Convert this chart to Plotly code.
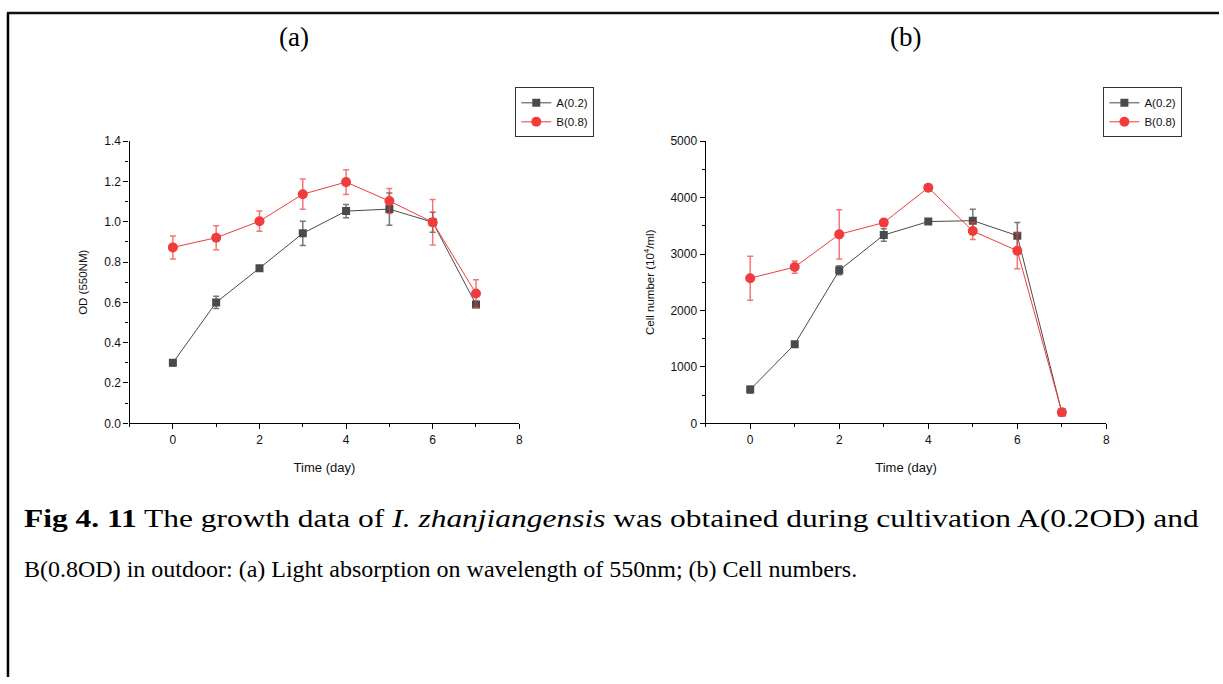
import plotly.graph_objects as go

# Sampling days
days = [0, 1, 2, 3, 4, 5, 6, 7]

# (a) optical density at 550 nm
od_a = [0.30, 0.60, 0.77, 0.943, 1.053, 1.063, 0.998, 0.59]
od_a_err = [0.015, 0.03, 0.01, 0.06, 0.033, 0.08, 0.05, 0.015]
od_b = [0.873, 0.921, 1.003, 1.137, 1.197, 1.103, 0.998, 0.644]
od_b_err = [0.057, 0.06, 0.05, 0.075, 0.061, 0.062, 0.113, 0.068]

# (b) cell numbers (10^4 / ml)
cells_a = [597, 1402, 2711, 3337, 3575, 3592, 3326, 191]
cells_a_err = [60, 40, 80, 110, 20, 200, 235, 20]
cells_b = [2572, 2769, 3349, 3557, 4177, 3407, 3059, 197]
cells_b_err = [390, 108, 435, 20, 20, 150, 320, 20]

series_names = ["A(0.2)", "B(0.8)"]

W, H = 1223, 684
GRAY = "#4a4a4a"
RED = "#f03c3c"
GRAY_ERR = "rgba(74,74,74,0.75)"
RED_ERR = "rgba(240,60,60,0.7)"
SANS = "Liberation Sans, Arial, sans-serif"
SERIF = "Liberation Serif, Times New Roman, serif"
INK = "#111111"


def px_x(p):
    return p / W


def px_y(p):
    return 1 - p / H


fig = go.Figure()


def add_pair(xaxis, yaxis, legend, ya, yae, yb, ybe):
    fig.add_trace(go.Scatter(
        x=days, y=ya, name=series_names[0], mode="lines+markers",
        xaxis=xaxis, yaxis=yaxis, legend=legend,
        line=dict(color=GRAY, width=1),
        marker=dict(symbol="square", size=8, color=GRAY),
        error_y=dict(type="data", array=yae, visible=True,
                     color=GRAY_ERR, thickness=1.5, width=3),
    ))
    fig.add_trace(go.Scatter(
        x=days, y=yb, name=series_names[1], mode="lines+markers",
        xaxis=xaxis, yaxis=yaxis, legend=legend,
        line=dict(color=RED, width=1),
        marker=dict(symbol="circle", size=10, color=RED),
        error_y=dict(type="data", array=ybe, visible=True,
                     color=RED_ERR, thickness=1.5, width=3),
    ))


add_pair("x", "y", "legend", od_a, od_a_err, od_b, od_b_err)
add_pair("x2", "y2", "legend2", cells_a, cells_a_err, cells_b, cells_b_err)

plot_top, plot_bottom = 137, 425

axis_common = dict(
    showline=True, linecolor="black", linewidth=1.3, mirror=False,
    showgrid=False, zeroline=False,
    ticks="outside", ticklen=5, tickwidth=1, tickcolor="black",
    tickfont=dict(family=SANS, size=12, color=INK),
)

xa = dict(axis_common, range=[-1, 8], dtick=2, tick0=0,
          minor=dict(ticks="outside", ticklen=3, dtick=1, tick0=0, tickcolor="black"),
          title=dict(text="Time (day)", font=dict(family=SANS, size=13, color=INK),
                     standoff=17))

ytitle_font = dict(family=SANS, size=11.5, color=INK)
legend_style = dict(xanchor="left", yanchor="top",
                    bordercolor="#333333", borderwidth=1, bgcolor="white",
                    font=dict(family=SANS, size=11.5, color=INK),
                    itemwidth=30, tracegroupgap=0)

fig.update_layout(
    width=W, height=H,
    margin=dict(l=0, r=0, t=0, b=0),
    paper_bgcolor="white", plot_bgcolor="white",
    showlegend=True,
    xaxis=dict(xa, domain=[px_x(130), px_x(521)], anchor="y"),
    yaxis=dict(axis_common, range=[0, 1.4], dtick=0.2, tickformat=".1f",
               domain=[px_y(plot_bottom), px_y(plot_top)], anchor="x",
               minor=dict(ticks="outside", ticklen=3, dtick=0.1, tickcolor="black"),
               title=dict(text="OD (550NM)", font=ytitle_font, standoff=14)),
    xaxis2=dict(xa, domain=[px_x(708), px_x(1110)], anchor="y2"),
    yaxis2=dict(axis_common, range=[0, 5000], dtick=1000,
                domain=[px_y(plot_bottom), px_y(plot_top)], anchor="x2",
                minor=dict(ticks="outside", ticklen=3, dtick=500, tickcolor="black"),
                title=dict(text="Cell number (10<sup>4</sup>/ml)", font=ytitle_font,
                           standoff=13)),
    legend=dict(legend_style, x=px_x(517), y=px_y(82)),
    legend2=dict(legend_style, x=px_x(1107), y=px_y(82)),
)

# Panel labels
for label, cx in (("(a)", 295), ("(b)", 908)):
    fig.add_annotation(text=label, x=px_x(cx), y=px_y(31), xref="paper", yref="paper",
                       xanchor="center", yanchor="middle", showarrow=False,
                       font=dict(family=SERIF, size=27, color="black"))

# Figure caption (first line is stretched to the full text width)
caption_1 = ("<b>Fig 4. 11</b> The growth data of <i>I. zhanjiangensis</i> was obtained "
             "during cultivation A(0.2OD) and")
caption_2 = "B(0.8OD) in outdoor: (a) Light absorption on wavelength of 550nm; (b) Cell numbers."
for text, cy, size in ((caption_1, 522, 26), (caption_2, 574, 24)):
    fig.add_annotation(text=text, x=px_x(22), y=px_y(cy), xref="paper", yref="paper",
                       xanchor="left", yanchor="middle", align="left", showarrow=False,
                       font=dict(family=SERIF, size=size, color="black"))

# Page frame (top and left rules)
fig.add_shape(type="line", xref="paper", yref="paper",
              x0=px_x(7), x1=1, y0=px_y(6), y1=px_y(6),
              line=dict(color=INK, width=2.5))
fig.add_shape(type="line", xref="paper", yref="paper",
              x0=px_x(8), x1=px_x(8), y0=px_y(6), y1=0,
              line=dict(color="black", width=2.5))

# Stretch the first caption line horizontally so it ends at the right text margin
stretch_js = """
var gd = document.getElementById('{plot_id}');
function stretchCaption() {
  gd.querySelectorAll('text.annotation-text').forEach(function (t) {
    var s = t.textContent;
    if (s.indexOf('Fig 4.') !== 0) { return; }
    if (t.dataset.baseTransform === undefined) {
      t.dataset.baseTransform = t.getAttribute('transform') || '';
    }
    var base = t.dataset.baseTransform;
    t.setAttribute('transform', base);
    var r = t.getBoundingClientRect();
    var bb = t.getBBox();
    var sx = (1207 - r.left) / r.width;
    if (sx > 0) {
      t.setAttribute('transform', base + ' translate(' + bb.x + ',0) scale(' + sx +
        ',1) translate(' + (-bb.x) + ',0)');
    }
  });
}
stretchCaption();
gd.on('plotly_afterplot', stretchCaption);
"""

fig.write_html("out.html", post_script=stretch_js)
